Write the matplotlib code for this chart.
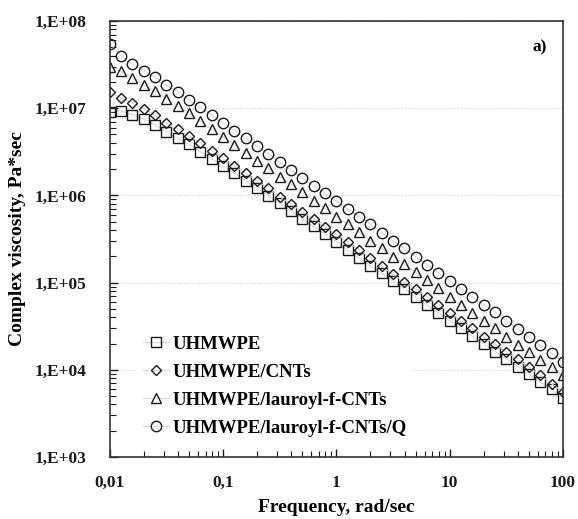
import matplotlib
matplotlib.use('Agg')
import matplotlib.pyplot as plt
from matplotlib.ticker import LogLocator, FixedLocator, NullFormatter

plt.rcParams['font.family'] = ['Liberation Serif', 'DejaVu Serif']
plt.rcParams['font.weight'] = 'bold'

# frequency, rad/sec (10 points per decade)
freq = [0.01, 0.0126, 0.0158, 0.02, 0.0251, 0.0316, 0.0398, 0.0501, 0.0631, 0.0794,
        0.1, 0.126, 0.158, 0.2, 0.251, 0.316, 0.398, 0.501, 0.631, 0.794,
        1.0, 1.26, 1.58, 2.0, 2.51, 3.16, 3.98, 5.01, 6.31, 7.94,
        10.0, 12.6, 15.8, 20.0, 25.1, 31.6, 39.8, 50.1, 63.1, 79.4, 100.0]

# complex viscosity, Pa*sec
uhmwpe = [9.1e6, 9.3e6, 8.4e6, 7.5e6, 6.4e6, 5.4e6, 4.5e6, 3.86e6, 3.17e6, 2.6e6,
          2.18e6, 1.79e6, 1.47e6, 1.21e6, 9.85e5, 8.1e5, 6.65e5, 5.36e5, 4.4e5, 3.6e5,
          2.95e5, 2.37e5, 1.93e5, 1.56e5, 1.28e5, 1.04e5, 8.4e4, 6.85e4, 5.5e4, 4.5e4,
          3.66e4, 2.99e4, 2.44e4, 1.98e4, 1.61e4, 1.33e4, 1.09e4, 8.9e3, 7.2e3, 5.97e3, 4.8e3]
cnts = [1.52e7, 1.32e7, 1.14e7, 9.9e6, 8.3e6, 6.8e6, 5.8e6, 4.8e6, 3.96e6, 3.26e6,
        2.66e6, 2.17e6, 1.79e6, 1.47e6, 1.21e6, 9.7e5, 7.96e5, 6.5e5, 5.36e5, 4.37e5,
        3.6e5, 2.9e5, 2.37e5, 1.93e5, 1.55e5, 1.24e5, 1.02e5, 8.4e4, 6.85e4, 5.6e4,
        4.5e4, 3.66e4, 2.99e4, 2.4e4, 1.96e4, 1.61e4, 1.32e4, 1.07e4, 8.7e3, 6.9e3, 5.6e3]
lauroyl = [2.99e7, 2.67e7, 2.24e7, 1.85e7, 1.57e7, 1.28e7, 1.05e7, 8.7e6, 7.1e6, 5.7e6,
           4.7e6, 3.8e6, 3.1e6, 2.5e6, 2.05e6, 1.64e6, 1.34e6, 1.08e6, 8.7e5, 7.1e5,
           5.7e5, 4.67e5, 3.78e5, 3.0e5, 2.47e5, 1.98e5, 1.62e5, 1.31e5, 1.06e5, 8.6e4,
           6.9e4, 5.5e4, 4.5e4, 3.66e4, 2.99e4, 2.4e4, 1.92e4, 1.59e4, 1.29e4, 1.07e4, 8.6e3]
lauroyl_q = [5.5e7, 4.0e7, 3.2e7, 2.7e7, 2.26e7, 1.85e7, 1.55e7, 1.24e7, 1.02e7, 8.4e6,
             6.7e6, 5.5e6, 4.5e6, 3.65e6, 2.99e6, 2.4e6, 1.95e6, 1.58e6, 1.28e6, 1.06e6,
             8.6e5, 7.0e5, 5.7e5, 4.67e5, 3.7e5, 3.0e5, 2.47e5, 1.98e5, 1.61e5, 1.30e5,
             1.05e5, 8.5e4, 6.9e4, 5.6e4, 4.6e4, 3.65e4, 2.94e4, 2.36e4, 1.91e4, 1.55e4, 1.22e4]

labels = ['UHMWPE', 'UHMWPE/CNTs', 'UHMWPE/lauroyl-f-CNTs', 'UHMWPE/lauroyl-f-CNTs/Q']
markers = ['s', 'D', '^', 'o']
sizes = [7.0, 5.5, 7.5, 7.5]

xticks = [0.01, 0.1, 1, 10, 100]
xtick_labels = ['0,01', '0,1', '1', '10', '100']
yticks = [1e3, 1e4, 1e5, 1e6, 1e7, 1e8]
ytick_labels = ['1,E+03', '1,E+04', '1,E+05', '1,E+06', '1,E+07', '1,E+08']

fig = plt.figure(figsize=(5.78, 5.19), dpi=100)
ax = fig.add_axes([0.190, 0.1195, 0.784, 0.840])

for y, lab, m, s in zip([uhmwpe, cnts, lauroyl, lauroyl_q], labels, markers, sizes):
    ax.plot(freq, y, linestyle='-', color='#d9d9d9', linewidth=0.8,
            marker=m, markersize=s, markerfacecolor='none',
            markeredgecolor='#1a1a1a', markeredgewidth=1.0, label=lab)

ax.set_xscale('log')
ax.set_yscale('log')
ax.set_xlim(0.01, 100)
ax.set_ylim(1e3, 1e8)

ax.xaxis.set_major_locator(FixedLocator(xticks))
ax.set_xticklabels(xtick_labels)
ax.yaxis.set_major_locator(FixedLocator(yticks))
ax.set_yticklabels(ytick_labels)
ax.xaxis.set_minor_locator(LogLocator(base=10, subs=range(2, 10), numticks=20))
ax.yaxis.set_minor_locator(LogLocator(base=10, subs=range(2, 10), numticks=20))
ax.xaxis.set_minor_formatter(NullFormatter())
ax.yaxis.set_minor_formatter(NullFormatter())

ax.tick_params(which='both', direction='in', top=False, right=False,
               labelsize=12.5, colors='#1a1a1a')
ax.tick_params(which='major', length=6, width=1.0)
ax.tick_params(which='minor', length=4, width=0.8)
ax.tick_params(axis='y', which='major', pad=17)
ax.tick_params(axis='x', which='major', pad=13)
for lbl in ax.get_xticklabels() + ax.get_yticklabels():
    lbl.set_fontweight('bold')

ax.grid(True, which='major', axis='y', color='#d0d0d0', linestyle=':', linewidth=0.8)
ax.set_axisbelow(True)
for sp in ax.spines.values():
    sp.set_linewidth(1.2)
    sp.set_color('#333333')

ax.set_xlabel('Frequency, rad/sec', fontsize=14, fontweight='bold', labelpad=6)
ax.set_ylabel('Complex viscosity, Pa*sec', fontsize=14, fontweight='bold', labelpad=6)

ax.text(0.965, 0.94, 'a)', transform=ax.transAxes, ha='right', va='center',
        fontsize=12.5, fontweight='bold')

leg = ax.legend(loc='lower left', bbox_to_anchor=(0.04, 0.012), frameon=True,
                edgecolor='none', facecolor='white', framealpha=1.0,
                prop={'size': 13.5, 'weight': 'bold'}, handlelength=1.4,
                handletextpad=0.2, labelspacing=0.58, borderpad=0.3)

fig.savefig('out.png', dpi=100)
